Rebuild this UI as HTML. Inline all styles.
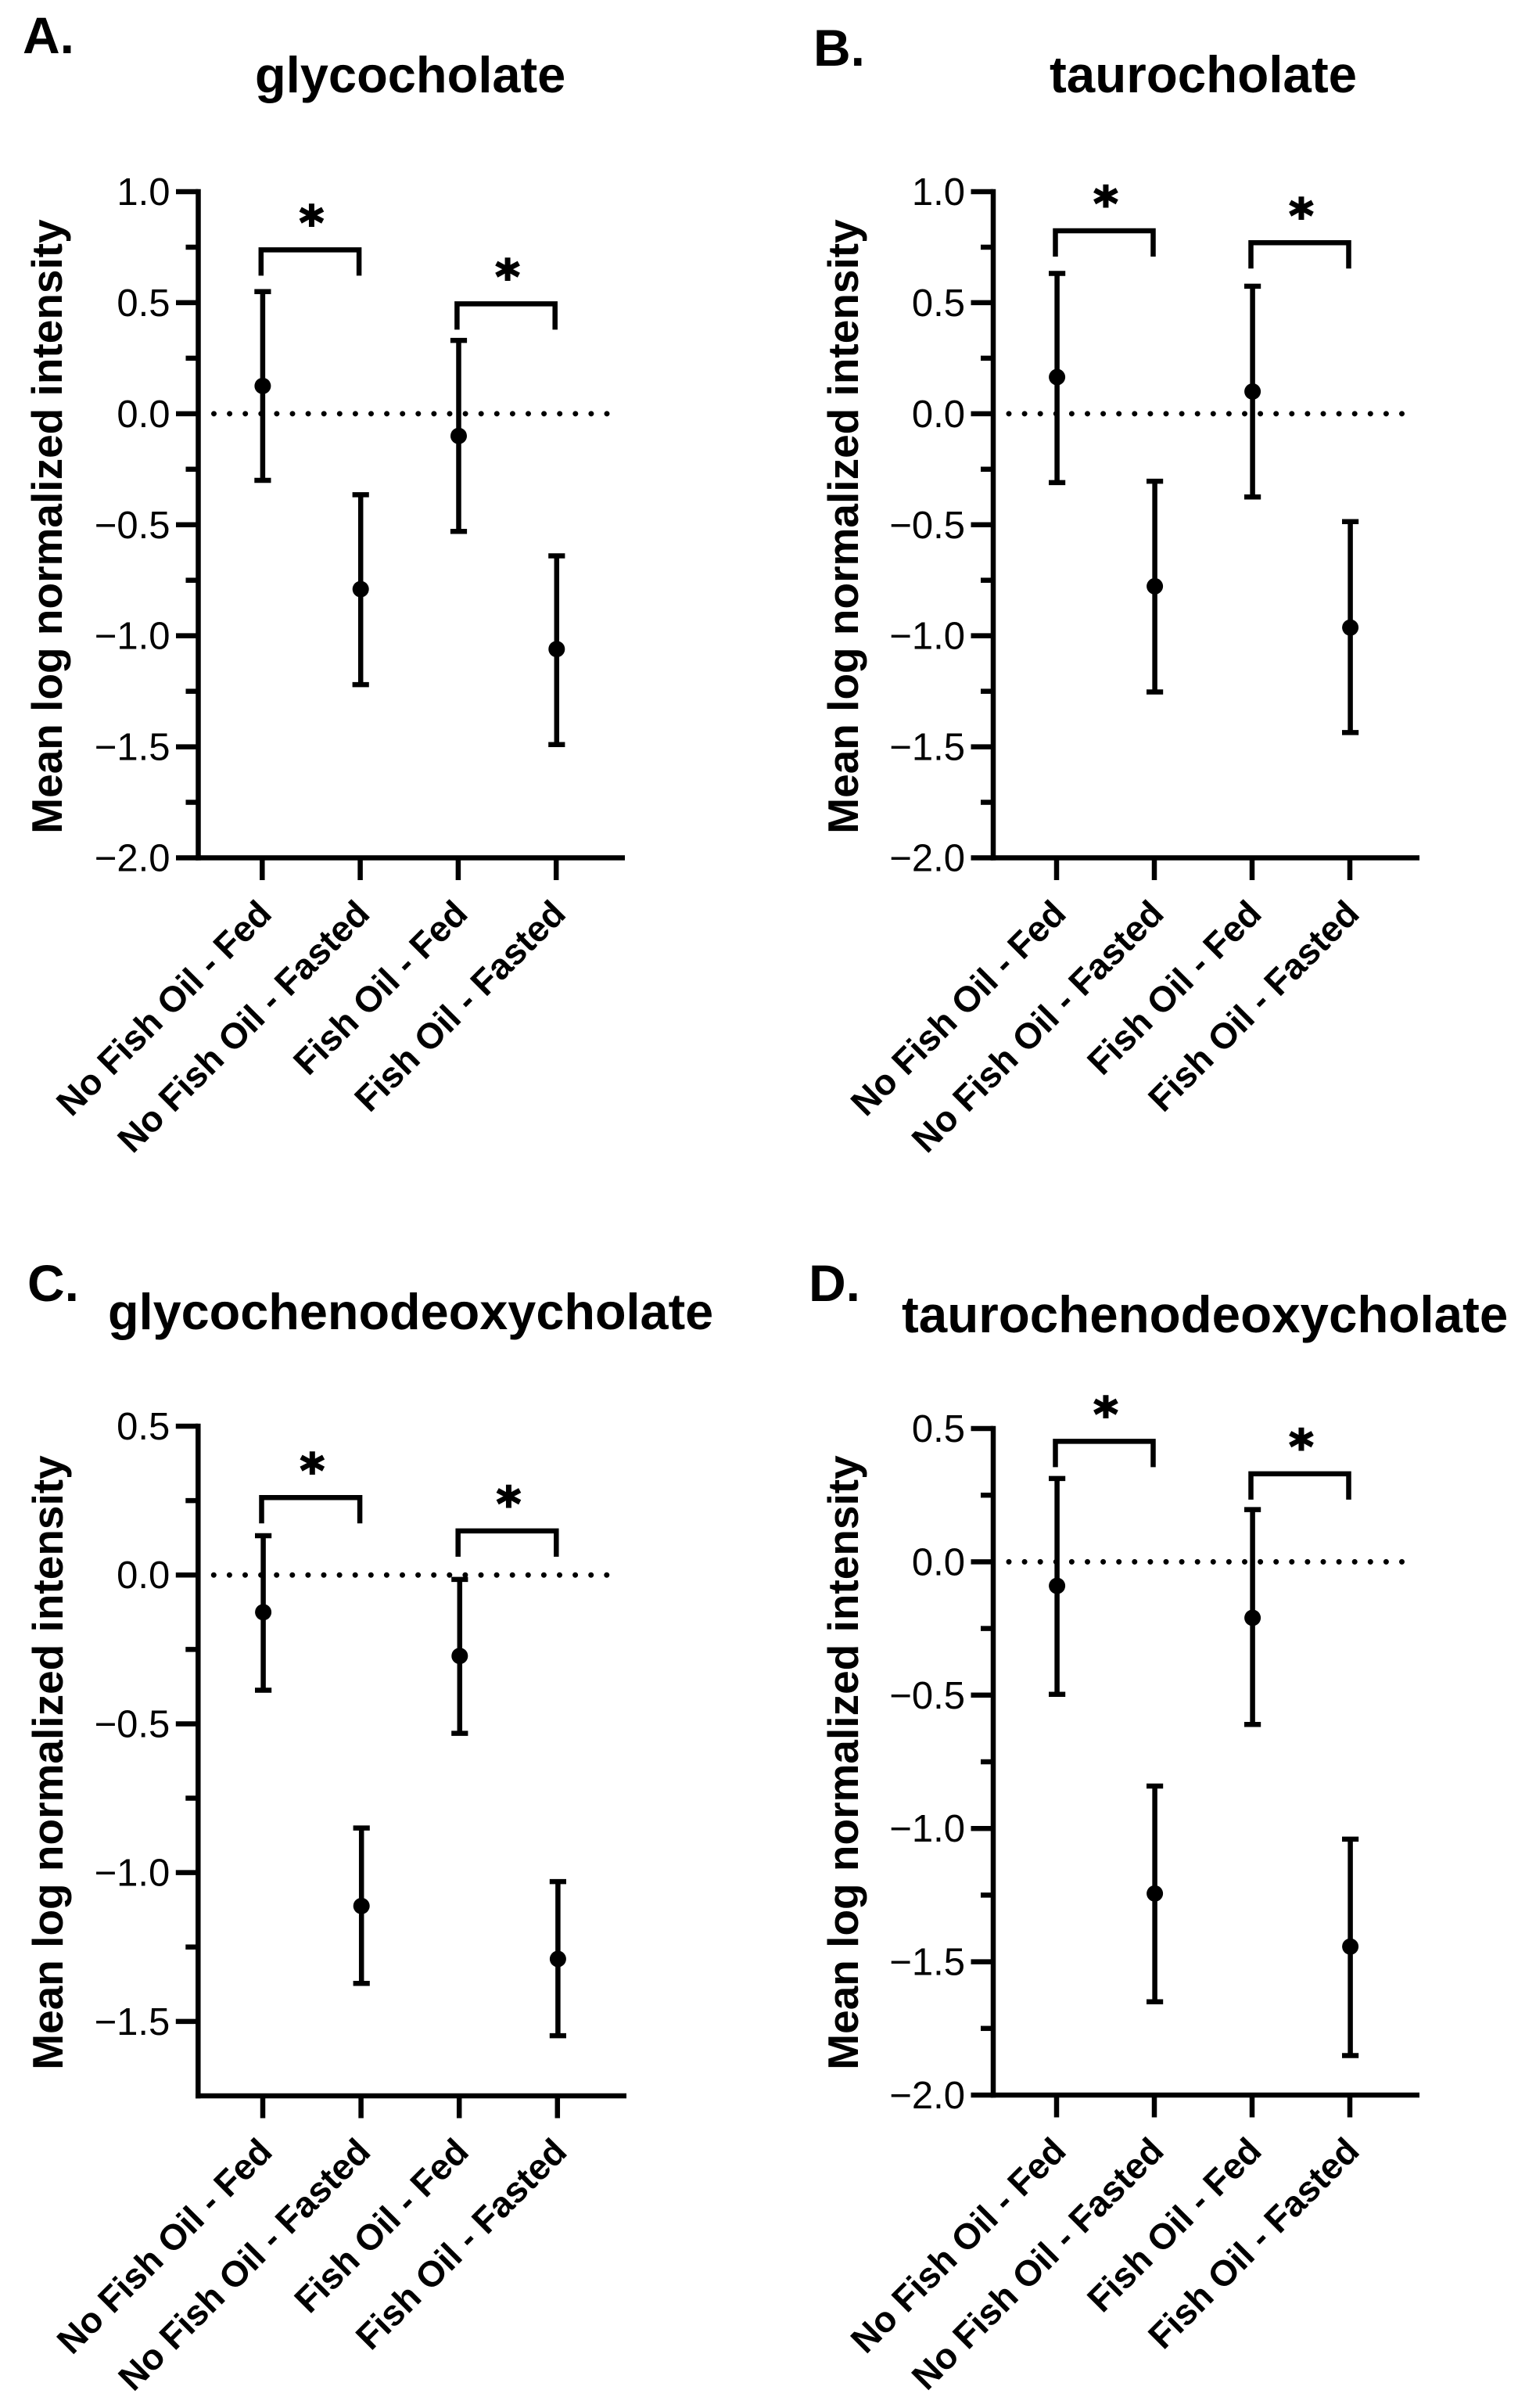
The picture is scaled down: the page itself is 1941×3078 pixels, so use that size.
<!DOCTYPE html>
<html lang="en">
<head>
<meta charset="utf-8">
<title>Bile acid mean log normalized intensity</title>
<style>
html,body{margin:0;padding:0;background:#fff;width:1941px;height:3078px;overflow:hidden}
svg{display:block}
text{fill:#000;font-family:"Liberation Sans",Arial,sans-serif}
.tick{font-size:49px}
.cat{font-size:46px;font-weight:700}
.ytitle{font-size:55px;font-weight:700}
.title{font-weight:700}
.letter{font-size:66px;font-weight:700}
.star{font-family:"DejaVu Sans",sans-serif;font-size:60px;font-weight:700;stroke:#000;stroke-width:2}
</style>
</head>
<body>
<svg id="figure" xmlns="http://www.w3.org/2000/svg" width="1941" height="3078" viewBox="0 0 1941 3078"></svg>
<script>
const categories = ["No Fish Oil - Fed", "No Fish Oil - Fasted", "Fish Oil - Fed", "Fish Oil - Fasted"];

const yAxisTitle = "Mean log normalized intensity";

const majorTicksAB = [1.0, 0.5, 0.0, -0.5, -1.0, -1.5, -2.0];
const minorTicksAB = [0.75, 0.25, -0.25, -0.75, -1.25, -1.75];
const majorTicksC = [0.5, 0.0, -0.5, -1.0, -1.5];
const minorTicksC = [0.25, -0.25, -0.75, -1.25];
const majorTicksD = [0.5, 0.0, -0.5, -1.0, -1.5, -2.0];
const minorTicksD = [0.25, -0.25, -0.75, -1.25, -1.75];

const meansA = [0.125, -0.79, -0.10, -1.06];
const upperA = [0.55, -0.365, 0.33, -0.64];
const lowerA = [-0.30, -1.22, -0.53, -1.49];
const bracketsA = [0.738, 0.495];

const meansB = [0.165, -0.777, 0.10, -0.963];
const upperB = [0.632, -0.304, 0.574, -0.486];
const lowerB = [-0.31, -1.253, -0.375, -1.436];
const bracketsB = [0.824, 0.77];

const meansC = [-0.125, -1.112, -0.272, -1.29];
const upperC = [0.132, -0.85, -0.015, -1.03];
const lowerC = [-0.387, -1.372, -0.532, -1.548];
const bracketsC = [0.26, 0.148];

const meansD = [-0.09, -1.244, -0.21, -1.443];
const upperD = [0.3125, -0.841, 0.196, -1.04];
const lowerD = [-0.497, -1.65, -0.61, -1.852];
const bracketsD = [0.452, 0.33];

const panels = [
  {id:"a", letter:"A.", letterX:29, letterY:68, title:"glycocholate", titleX:326, titleY:118, titleSize:65,
   means:meansA, upper:upperA, lower:lowerA, brackets:bracketsA, major:majorTicksAB, minor:minorTicksAB,
   domainMax:1.0, domainMin:-2.0, rangeTop:245, rangeBottom:1096.5, axisX:253.5, firstX:335.3, stepX:125.3, axisEnd:799, titleCenterX:79, titleCenterY:673, dotEnd:779},
  {id:"b", letter:"B.", letterX:1040, letterY:84, title:"taurocholate", titleX:1342, titleY:118, titleSize:65.5,
   means:meansB, upper:upperB, lower:lowerB, brackets:bracketsB, major:majorTicksAB, minor:minorTicksAB,
   domainMax:1.0, domainMin:-2.0, rangeTop:245, rangeBottom:1096.5, axisX:1270, firstX:1351, stepX:125, axisEnd:1815, titleCenterX:1097, titleCenterY:673, dotEnd:1795.5},
  {id:"c", letter:"C.", letterX:35, letterY:1663, title:"glycochenodeoxycholate", titleX:138, titleY:1699, titleSize:64.8,
   means:meansC, upper:upperC, lower:lowerC, brackets:bracketsC, major:majorTicksC, minor:minorTicksC,
   domainMax:0.5, domainMin:-1.75, rangeTop:1823, rangeBottom:2679, axisX:253.3, firstX:336, stepX:125.6, axisEnd:801, titleCenterX:80, titleCenterY:2253, dotEnd:782},
  {id:"d", letter:"D.", letterX:1034, letterY:1663, title:"taurochenodeoxycholate", titleX:1153, titleY:1703, titleSize:65.5,
   means:meansD, upper:upperD, lower:lowerD, brackets:bracketsD, major:majorTicksD, minor:minorTicksD,
   domainMax:0.5, domainMin:-2.0, rangeTop:1826, rangeBottom:2678, axisX:1270, firstX:1351, stepX:125, axisEnd:1815, titleCenterX:1097, titleCenterY:2253, dotEnd:1796}
];

const SVG_NS = "http://www.w3.org/2000/svg";
const figure = document.getElementById("figure");

function makeEl(parent, tag, props) {
  const el = document.createElementNS(SVG_NS, tag);
  for (const key in props) el.setAttribute(key, props[key]);
  parent.appendChild(el);
  return el;
}

function tickText(v) {
  const s = Math.abs(v).toFixed(1);
  return v < 0 ? "\u2212" + s : s;
}

function drawPanel(p) {
  const g = makeEl(figure, "g", {});
  
  

  const yScale = v => p.rangeBottom - (v - p.domainMin) * (p.rangeBottom - p.rangeTop) / (p.domainMax - p.domainMin);
  const xScale = i => p.firstX + i * p.stepX;
  const lineStyle = {stroke:"#000", "stroke-width":6.5, fill:"none"};

  const letter = makeEl(g, "text", {x:p.letterX, y:p.letterY, class:"letter"});
  letter.textContent = p.letter;
  
  

  const title = makeEl(g, "text", {x:p.titleX, y:p.titleY, class:"title", "font-size":p.titleSize});
  title.textContent = p.title;
  
  

  const yt = makeEl(g, "text", {class:"ytitle", "text-anchor":"middle", transform:"translate(" + p.titleCenterX + " " + p.titleCenterY + ") rotate(-90)"});
  yt.textContent = yAxisTitle;
  
  

  // zero reference line
  const zero = makeEl(g, "line", {x1:p.axisX + 20, x2:p.dotEnd + 0.1, y1:yScale(0), y2:yScale(0), stroke:"#000", "stroke-width":7, "stroke-linecap":"round", "stroke-dasharray":"0 20.1"});
  
  

  // y axis
  const topY = yScale(p.domainMax) - 3.25;
  const yAxis = makeEl(g, "line", Object.assign({x1:p.axisX, x2:p.axisX, y1:topY, y2:p.rangeBottom + 3.25}, lineStyle));
  
  

  p.major.forEach(v => {
    const t = makeEl(g, "line", Object.assign({x1:p.axisX - 28.5, x2:p.axisX, y1:yScale(v), y2:yScale(v)}, lineStyle));
    
    
    const lab = makeEl(g, "text", {x:p.axisX - 36, y:yScale(v) + 17, class:"tick", "text-anchor":"end"});
    lab.textContent = tickText(v);
    
    
  });
  p.minor.forEach(v => {
    const t = makeEl(g, "line", Object.assign({x1:p.axisX - 16, x2:p.axisX, y1:yScale(v), y2:yScale(v)}, lineStyle));
    
    
  });

  // x axis
  const xAxis = makeEl(g, "line", Object.assign({x1:p.axisX - 3.25, x2:p.axisEnd, y1:p.rangeBottom, y2:p.rangeBottom}, lineStyle));
  
  

  categories.forEach((c, i) => {
    const x = xScale(i);
    const t = makeEl(g, "line", Object.assign({x1:x, x2:x, y1:p.rangeBottom, y2:p.rangeBottom + 28.5}, lineStyle));
    
    
    const lab = makeEl(g, "text", {class:"cat", "text-anchor":"end", transform:"translate(" + (x + 14.5) + " " + (p.rangeBottom + 74) + ") rotate(-45)"});
    lab.textContent = c;
    
    
  });

  // error bars and means
  categories.forEach((c, i) => {
    const x = xScale(i) + 0.6;
    const bar = makeEl(g, "line", Object.assign({x1:x, x2:x, y1:yScale(p.upper[i]), y2:yScale(p.lower[i])}, lineStyle));
    
    
    [p.upper[i], p.lower[i]].forEach(v => {
      const cap = makeEl(g, "line", Object.assign({x1:x - 10.6, x2:x + 10.6, y1:yScale(v), y2:yScale(v)}, lineStyle));
      
      
    });
    const dot = makeEl(g, "circle", {cx:x, cy:yScale(p.means[i]), r:10.5, fill:"#000"});
    
    
  });

  // significance brackets
  p.brackets.forEach((level, b) => {
    const xa = xScale(b * 2) - 1.5;
    const xb = xScale(b * 2 + 1) - 1.5;
    const y = yScale(level);
    const br = makeEl(g, "path", Object.assign({d:"M" + xa + " " + (y + 33) + "V" + y + "H" + xb + "V" + (y + 33)}, lineStyle));
    
    
    const star = makeEl(g, "text", {x:(xa + xb) / 2 + 2, y:y - 45 + 31, class:"star", "text-anchor":"middle"});
    star.textContent = "*";
    
    
  });
}

panels.forEach(drawPanel);
</script>
</body>
</html>
